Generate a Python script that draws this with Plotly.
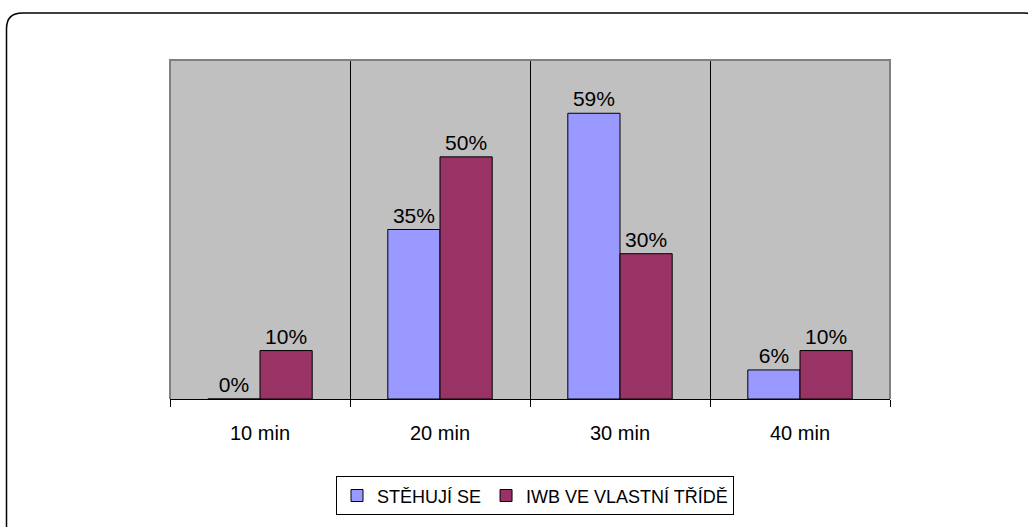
import plotly.graph_objects as go

categories = ["10 min", "20 min", "30 min", "40 min"]
series_names = ["STĚHUJÍ SE", "IWB VE VLASTNÍ TŘÍDĚ"]
stehuji = [0, 35, 59, 6]
iwb = [10, 50, 30, 10]
colors = ["#9999FF", "#993366"]

W, H = 1028, 527
L, R, T, B = 170, 890, 60, 402

FAM = "Liberation Sans, Arial, sans-serif"
label_font = dict(family=FAM, size=21, color="black")
tick_font = dict(family=FAM, size=20, color="black")
legend_font = dict(family=FAM, size=18, color="black")

fig = go.Figure()
for name, vals, col in zip(series_names, [stehuji, iwb], colors):
    fig.add_trace(go.Bar(
        x=categories, y=vals, name=name,
        marker=dict(color=col, line=dict(color="black", width=1)),
        text=[f"{v}%" for v in vals], textposition="outside",
        textfont=label_font, cliponaxis=False, constraintext="none",
    ))

fig.update_layout(
    width=W, height=H, autosize=False,
    margin=dict(l=L, r=W - R, t=T, b=H - B, pad=0),
    paper_bgcolor="white", plot_bgcolor="#C0C0C0",
    barmode="group", bargap=0.42, bargroupgap=0,
    font=tick_font,
    showlegend=True,
    legend=dict(orientation="h", x=(535 - L) / (R - L), xanchor="center",
                y=(B - 480) / (B - T), yanchor="top",
                bordercolor="black", borderwidth=1, bgcolor="white",
                font=legend_font, itemwidth=30, tracegroupgap=0),
    xaxis=dict(type="category", tickson="boundaries", ticks="outside", ticklen=7,
               tickcolor="black", tickwidth=1, showgrid=True, gridcolor="black",
               gridwidth=1, showline=True, linecolor="black", linewidth=1,
               tickfont=tick_font, zeroline=False, ticklabelstandoff=16),
    yaxis=dict(range=[0, 70], showticklabels=False, showgrid=False, ticks="",
               zeroline=False, showline=False),
)

# grey plot-area border (top, left, right)
fig.add_shape(type="path", xref="paper", yref="paper",
              path="M 0 0 L 0 1 L 1 1 L 1 0",
              line=dict(color="#808080", width=2), layer="above")

# outer rounded chart border (extends beyond page at right/bottom)
def px(x):
    return (x - L) / (R - L)

def py(y):
    return (B - y) / (B - T)

x0, y0, x1, y1, r = 6.5, 12.5, 1040, 545, 16
path = (f"M {px(x0)} {py(y0 + r)} "
        f"Q {px(x0)} {py(y0)} {px(x0 + r)} {py(y0)} "
        f"L {px(x1 - r)} {py(y0)} "
        f"Q {px(x1)} {py(y0)} {px(x1)} {py(y0 + r)} "
        f"L {px(x1)} {py(y1 - r)} "
        f"Q {px(x1)} {py(y1)} {px(x1 - r)} {py(y1)} "
        f"L {px(x0 + r)} {py(y1)} "
        f"Q {px(x0)} {py(y1)} {px(x0)} {py(y1 - r)} Z")
fig.add_shape(type="path", xref="paper", yref="paper", path=path,
              line=dict(color="black", width=1.5), layer="below")

fig.write_html("out.html")
